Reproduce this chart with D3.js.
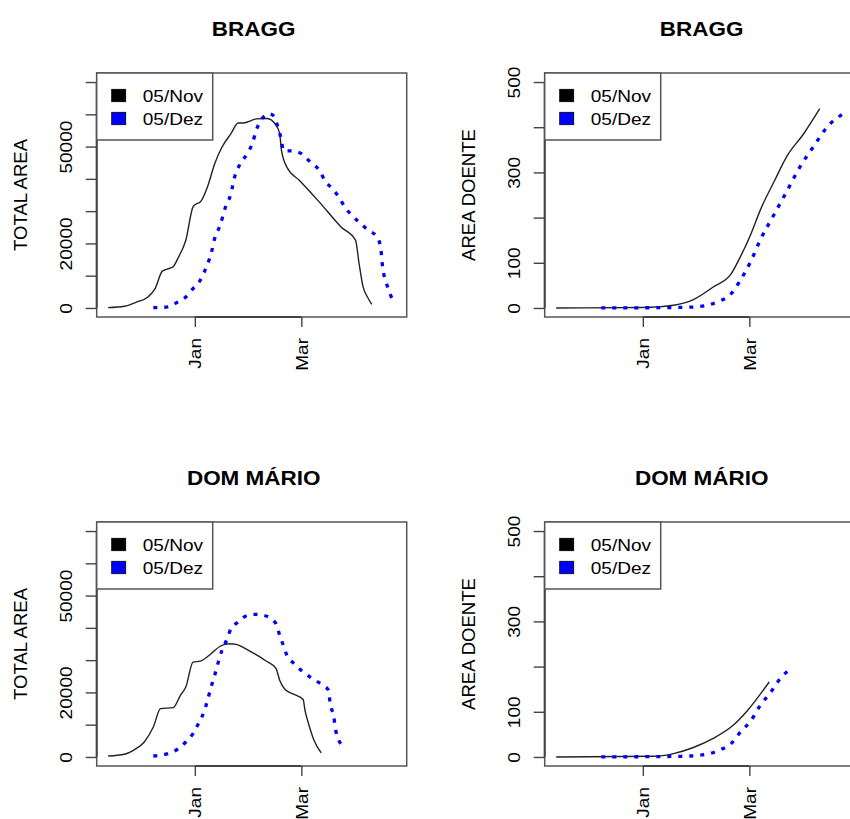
<!DOCTYPE html>
<html><head><meta charset="utf-8">
<script src="https://cdn.jsdelivr.net/npm/d3@7"></script>
<style>body{margin:0;background:#fff}svg{display:block}</style>
</head><body>
<svg id="c" width="850" height="819"></svg>
<script>
// ---------- DATA ----------
const seriesNames = ["05/Nov", "05/Dez"];
const panelTitles = ["BRAGG", "BRAGG", "DOM MÁRIO", "DOM MÁRIO"];
const yTitles = ["TOTAL AREA", "AREA DOENTE"];
const xTickDates = ["2006-01-01", "2006-03-01"];
const xTickLabels = ["Jan", "Mar"];
const totalLimits = [0, 70000];
const totalTicks = [0, 10000, 20000, 30000, 40000, 50000, 60000, 70000];
const totalTickLabels = [0, 20000, 50000];
const doenteLimits = [0, 500];
const doenteTicks = [0, 100, 200, 300, 400, 500];
const doenteTickLabels = [0, 100, 300, 500];

// BRAGG – total area
const braggNovDates = ["2005-11-14","2005-11-23","2005-11-30","2005-12-06","2005-12-10","2005-12-14","2005-12-18","2005-12-20","2005-12-23","2005-12-27","2005-12-31","2006-01-02","2006-01-04","2006-01-08","2006-01-12","2006-01-16","2006-01-21","2006-01-25","2006-01-28","2006-01-31","2006-02-04","2006-02-10","2006-02-15","2006-02-17","2006-02-18","2006-02-21","2006-02-28","2006-03-11","2006-03-23","2006-03-31","2006-04-02","2006-04-04","2006-04-07","2006-04-09"];
const braggNovTotal = [100,530,1860,3400,6000,11400,12300,12800,15800,21000,31300,32300,32800,37500,44700,49800,54000,57300,57300,57800,58600,58700,56600,54000,48800,43600,39500,32800,25100,21000,13700,7000,3000,1100];
const braggDezDates = ["2005-12-09","2005-12-17","2005-12-22","2005-12-27","2005-12-31","2006-01-04","2006-01-07","2006-01-10","2006-01-12","2006-01-15","2006-01-18","2006-01-21","2006-01-23","2006-01-26","2006-01-30","2006-02-02","2006-02-04","2006-02-06","2006-02-09","2006-02-11","2006-02-14","2006-02-16","2006-02-18","2006-02-19","2006-02-25","2006-03-01","2006-03-06","2006-03-11","2006-03-14","2006-03-18","2006-03-22","2006-03-25","2006-03-29","2006-04-03","2006-04-07","2006-04-12","2006-04-14","2006-04-15","2006-04-17","2006-04-19","2006-04-22"];
const braggDezTotal = [100,310,1670,3400,6000,8600,12200,16800,21500,25600,31300,35400,40500,44500,47800,51200,55000,57600,59700,60200,59400,56000,51900,48800,48600,47800,45200,42600,39500,37000,34200,31300,28700,26100,24100,22000,18400,12700,8000,4500,1500];

// DOM MÁRIO – total area
const domNovDates = ["2005-11-14","2005-11-23","2005-11-28","2005-12-04","2005-12-09","2005-12-13","2005-12-20","2005-12-24","2005-12-27","2005-12-31","2006-01-04","2006-01-10","2006-01-15","2006-01-20","2006-01-24","2006-01-28","2006-02-03","2006-02-09","2006-02-15","2006-02-17","2006-02-20","2006-02-25","2006-03-02","2006-03-03","2006-03-05","2006-03-08","2006-03-12"];
const domNovTotal = [300,840,2070,4640,9290,14980,15290,19100,21670,29400,29700,32000,34300,35100,34900,33900,32000,29900,27400,23750,20900,19400,17800,14500,10300,5200,1240];
const domDezDates = ["2005-12-09","2005-12-17","2005-12-23","2005-12-27","2005-12-31","2006-01-03","2006-01-06","2006-01-08","2006-01-10","2006-01-12","2006-01-14","2006-01-16","2006-01-19","2006-01-21","2006-01-25","2006-01-28","2006-02-03","2006-02-08","2006-02-15","2006-02-17","2006-02-19","2006-02-21","2006-02-25","2006-03-01","2006-03-07","2006-03-13","2006-03-16","2006-03-17","2006-03-19","2006-03-20","2006-03-24"];
const domDezTotal = [300,1050,2600,4640,7240,10340,13900,17500,21700,25300,29400,33000,36700,39750,41800,43300,44200,43900,41300,37700,34600,31500,28900,26800,24300,22200,20650,16500,12400,8300,3300];

// BRAGG – area doente
const braggNovDoenteDates = ["2005-11-14","2005-12-31","2006-01-11","2006-01-18","2006-01-29","2006-02-09","2006-02-19","2006-02-24","2006-03-02","2006-03-07","2006-03-15","2006-03-22","2006-03-31","2006-04-09"];
const braggNovDoente = [0,1,3,6,18.6,46.5,76,113,165,216,282,337,385,441];
const braggDezDoenteDates = ["2005-12-09","2006-01-18","2006-01-29","2006-02-11","2006-02-19","2006-02-24","2006-03-02","2006-03-07","2006-03-15","2006-03-22","2006-03-29","2006-04-06","2006-04-13","2006-04-22"];
const braggDezDoente = [0,1,2,13,32,61,105,150,209,260,312,360,400,430];

// DOM MÁRIO – area doente
const domNovDoenteDates = ["2005-11-14","2006-01-07","2006-01-18","2006-01-29","2006-02-09","2006-02-20","2006-02-28","2006-03-12"];
const domNovDoente = [0,1.5,7.5,21,41,70,103,166];
const domDezDoenteDates = ["2005-12-09","2006-01-22","2006-02-04","2006-02-13","2006-02-19","2006-02-24","2006-03-02","2006-03-07","2006-03-13","2006-03-18","2006-03-24"];
const domDezDoente = [0,1.5,5,16,30,55,81,114,144,173,196];

// ---------- DRAW ----------
const parse = d3.timeParse("%Y-%m-%d");
const zip = (ds, vs) => ds.map((d, i) => ({ t: parse(d), v: vs[i] }));

const panels = [
  { title: panelTitles[0], ylab: yTitles[0], left: 96.7, top: 73, lim: totalLimits, ticks: totalTicks, labs: totalTickLabels,
    nov: zip(braggNovDates, braggNovTotal), dez: zip(braggDezDates, braggDezTotal) },
  { title: panelTitles[1], ylab: yTitles[1], left: 544.7, top: 73, lim: doenteLimits, ticks: doenteTicks, labs: doenteTickLabels,
    nov: zip(braggNovDoenteDates, braggNovDoente), dez: zip(braggDezDoenteDates, braggDezDoente) },
  { title: panelTitles[2], ylab: yTitles[0], left: 96.7, top: 522, lim: totalLimits, ticks: totalTicks, labs: totalTickLabels,
    nov: zip(domNovDates, domNovTotal), dez: zip(domDezDates, domDezTotal) },
  { title: panelTitles[3], ylab: yTitles[1], left: 544.7, top: 522, lim: doenteLimits, ticks: doenteTicks, labs: doenteTickLabels,
    nov: zip(domNovDoenteDates, domNovDoente), dez: zip(domDezDoenteDates, domDezDoente) }
];

const W = 310, H = 244;
const FONT = "'Liberation Sans', Arial, Helvetica, sans-serif";
const svg = d3.select("#c").attr("font-family", FONT);

function stretch(sel, f) {
  sel.each(function () {
    const L = this.getComputedTextLength();
    if (L > 0) {
      this.setAttribute("textLength", L * f);
      this.setAttribute("lengthAdjust", "spacingAndGlyphs");
    }
  });
}

// shared x domain (all dates), padded 4% like R
const allDates = [braggNovDates, braggDezDates, domNovDates, domDezDates].flat().map(parse);
const [t0, t1] = d3.extent(allDates);
const xpad = (t1 - t0) * 0.04;

panels.forEach(p => {
  const g = svg.append("g");
  const x = d3.scaleTime().domain([new Date(+t0 - xpad), new Date(+t1 + xpad)]).range([p.left, p.left + W]);
  const ypad = (p.lim[1] - p.lim[0]) * 0.04;
  const y = d3.scaleLinear().domain([p.lim[0] - ypad, p.lim[1] + ypad]).range([p.top + H, p.top]);

  // lines
  const line = d3.line().x(d => x(d.t)).y(d => y(d.v)).curve(d3.curveMonotoneX);
  g.append("path").datum(p.nov).attr("d", line)
    .attr("fill", "none").attr("stroke", "#222").attr("stroke-width", 1.4);
  g.append("path").datum(p.dez).attr("d", line)
    .attr("fill", "none").attr("stroke", "#0000ff").attr("stroke-width", 3.3)
    .attr("stroke-dasharray", "4,7");

  // box
  g.append("rect").attr("x", p.left).attr("y", p.top).attr("width", W).attr("height", H)
    .attr("fill", "none").attr("stroke", "#555").attr("stroke-width", 1.5);

  // y axis
  const ya = g.append("g").attr("transform", `translate(${p.left},0)`)
    .call(d3.axisLeft(y).tickValues(p.ticks).tickSize(11).tickSizeOuter(0)
      .tickFormat(d => p.labs.includes(d) ? String(d) : ""));
  ya.select(".domain").remove();
  ya.selectAll(".tick line").attr("stroke", "#444").attr("stroke-width", 1.4);
  ya.append("line").attr("x1", 0).attr("x2", 0)
    .attr("y1", y(p.ticks[0])).attr("y2", y(p.ticks[p.ticks.length - 1]))
    .attr("stroke", "#444").attr("stroke-width", 2);
  ya.selectAll(".tick text")
    .attr("x", 0).attr("y", -25).attr("dy", 0)
    .attr("transform", "rotate(-90)")
    .attr("text-anchor", "middle")
    .attr("fill", "#000").attr("font-size", 17).attr("font-family", FONT);
  stretch(ya.selectAll(".tick text"), 1.12);

  // x axis
  const xt = xTickDates.map(parse);
  const xa = g.append("g").attr("transform", `translate(0,${p.top + H})`)
    .call(d3.axisBottom(x).tickValues(xt).tickSize(10).tickSizeOuter(0)
      .tickFormat((d, i) => xTickLabels[i]));
  xa.select(".domain").remove();
  xa.selectAll(".tick line").attr("stroke", "#444").attr("stroke-width", 1.4);
  xa.append("line").attr("y1", 0).attr("y2", 0)
    .attr("x1", x(xt[0])).attr("x2", x(xt[xt.length - 1]))
    .attr("stroke", "#444").attr("stroke-width", 2.2);
  xa.selectAll(".tick text")
    .attr("x", 0).attr("y", 0).attr("dy", 0)
    .attr("transform", "translate(6,21) rotate(-90)")
    .attr("text-anchor", "end")
    .attr("fill", "#000").attr("font-size", 17).attr("font-family", FONT);
  stretch(xa.selectAll(".tick text"), 1.12);

  // y axis title
  const yt = g.append("text")
    .attr("transform", `translate(${p.left - 70},${p.top + H / 2}) rotate(-90)`)
    .attr("text-anchor", "middle").attr("font-size", 17.5).text(p.ylab);
  stretch(yt, 1.06);

  // main title
  const tt = g.append("text")
    .attr("x", p.left + W / 2 + 2).attr("y", p.top - 37)
    .attr("text-anchor", "middle").attr("font-size", 21).attr("font-weight", "bold").text(p.title);
  stretch(tt, 1.07);

  // legend
  const lg = g.append("g").attr("transform", `translate(${p.left},${p.top})`);
  lg.append("rect").attr("x", 0).attr("y", 0).attr("width", 116).attr("height", 67)
    .attr("fill", "#fff").attr("stroke", "#555").attr("stroke-width", 1.5);
  const cols = ["#000", "#0000ff"];
  seriesNames.forEach((s, i) => {
    const cy = 22.5 + i * 23;
    lg.append("rect").attr("x", 15).attr("y", cy - 6.2).attr("width", 14).attr("height", 12.4)
      .attr("fill", cols[i]).attr("stroke", "#000").attr("stroke-width", 0.8);
    const lt = lg.append("text").attr("x", 46).attr("y", cy + 6.1)
      .attr("font-size", 17).text(s);
    stretch(lt, 1.12);
  });
});
</script>
</body></html>
